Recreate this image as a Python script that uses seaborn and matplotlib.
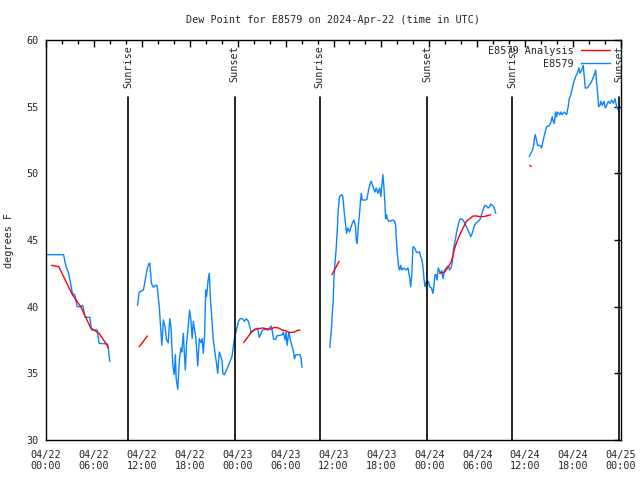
import pandas as pd
import numpy as np
import matplotlib
matplotlib.use("Agg")
import matplotlib.pyplot as plt
import matplotlib.dates as mdates
from matplotlib.lines import Line2D
import seaborn as sns

# Hours after 2024-04-22 00:00 UTC, dew point in degrees F
obs1_h = [0.1, 2.2, 2.5, 2.8, 3.0, 3.3, 3.6, 3.9, 4.3, 4.6, 4.9, 5.5, 5.7, 6.4, 6.65, 7.7, 7.8, 7.9, 8.0]
obs1_v = [43.9, 43.9, 43.0, 42.6, 42.0, 41.0, 40.9, 40.0, 40.0, 40.1, 39.2, 39.2, 38.25, 38.25, 37.25, 37.2, 36.9, 36.3, 35.9]

obs2_h = [11.46, 11.67, 12.2, 12.5, 12.7, 12.9, 13.0, 13.2, 13.45, 13.7, 13.9, 14.2, 14.3, 14.5, 14.7, 14.9,
          15.1, 15.3, 15.5, 15.65, 15.8, 15.9, 16.06, 16.2, 16.3, 16.5, 16.7, 16.9, 17.0, 17.2, 17.3, 17.45,
          17.6, 17.8, 17.98, 18.15, 18.3, 18.45, 18.6, 18.75, 18.9, 19.0, 19.2, 19.4, 19.55, 19.7, 19.85, 20.0,
          20.1, 20.3, 20.45, 20.6, 20.75, 20.95, 21.2, 21.35, 21.5, 21.7, 21.9, 22.05, 22.15, 22.3, 22.5, 22.96,
          23.3, 23.5, 23.7, 23.95, 24.1, 24.3, 24.6, 24.85, 25.06, 25.35, 25.55, 25.7, 26.1, 26.5, 26.7, 27.1,
          27.5, 27.8, 28.2, 28.3, 28.5, 28.75, 28.9, 29.6, 29.7, 29.95, 30.05, 30.2, 30.4, 30.6, 30.8, 31.0,
          31.1, 31.3, 31.8, 31.95, 32.0, 32.07]
obs2_v = [40.1, 41.1, 41.25, 42.25, 42.9, 43.25, 43.25, 41.75, 41.45, 41.6, 41.6, 39.9, 38.9, 37.1, 39.0, 38.5,
          37.5, 37.3, 39.1, 38.5, 36.5, 35.5, 34.9, 36.4, 34.6, 33.8, 36.0, 36.9, 36.6, 38.0, 36.75, 35.25,
          37.25, 38.4, 39.75, 39.0, 37.6, 38.9, 38.25, 37.75, 36.5, 35.55, 37.6, 37.3, 37.6, 36.5, 37.75, 41.25,
          40.75, 42.0, 42.5, 40.5, 39.25, 37.5, 36.4, 35.75, 35.0, 36.6, 36.25, 35.9, 35.0, 34.9, 35.1, 35.75,
          36.3, 37.25, 37.9, 38.5, 38.9, 39.1, 39.1, 38.9, 39.1, 38.9, 38.4, 38.05, 38.25, 38.4, 37.7, 38.25,
          38.3, 38.25, 38.55, 38.3, 37.55, 37.55, 37.8, 37.9, 38.1, 37.5, 38.1, 37.1, 38.1, 37.5, 37.05, 36.6,
          36.1, 36.4, 36.4, 36.1, 35.75, 35.45]

obs3_h = [35.54, 35.62, 35.75, 35.84, 35.96, 36.04, 36.21, 36.34, 36.47, 36.59, 36.75, 37.04, 37.17, 37.34,
          37.47, 37.63, 37.8, 38.0, 38.22, 38.35, 38.55, 38.76, 38.85, 38.97, 39.1, 39.26, 39.39, 39.48, 39.6,
          39.98, 40.18, 40.39, 40.6, 40.73, 40.93, 41.18, 41.36, 41.56, 41.77, 41.93, 42.06, 42.18, 42.31,
          42.44, 42.52, 42.65, 42.74, 42.94, 43.44, 43.65, 43.78, 43.87, 43.99, 44.15, 44.28, 44.41, 44.57,
          44.78, 45.12, 45.32, 45.53, 45.66, 45.79, 45.95, 46.16, 46.37, 46.57, 46.79, 46.91, 47.08, 47.2,
          47.33, 47.45, 47.63, 47.75, 47.88, 48.04, 48.26, 48.46, 48.58, 48.71, 48.83, 48.96, 49.13, 49.21,
          49.38, 49.55, 49.71, 49.92, 50.14, 50.34, 50.55, 50.77, 50.89, 51.05, 51.22, 51.39, 51.6, 51.81,
          52.02, 52.22, 52.43, 52.65, 52.94, 53.19, 53.4, 53.6, 53.81, 54.1, 54.32, 54.53, 54.73, 54.94,
          55.16, 55.36, 55.57, 55.7, 55.91, 56.07, 56.2, 56.32]
obs3_v = [36.95, 37.5, 38.4, 39.4, 40.4, 41.9, 43.5, 44.4, 45.75, 47.25, 48.25, 48.4, 48.25, 47.1,
          46.4, 45.5, 45.9, 45.6, 46.0, 46.25, 46.5, 46.0, 45.0, 44.75, 46.0, 47.0, 48.0, 48.5, 48.0,
          48.0, 48.05, 48.75, 49.25, 49.4, 49.0, 48.6, 48.9, 48.5, 48.9, 48.25, 49.1, 49.9, 49.0,
          47.75, 46.6, 46.9, 46.6, 46.4, 46.5, 46.4, 46.1, 45.0, 44.0, 43.0, 42.75, 43.1, 42.75,
          42.9, 42.75, 42.9, 42.2, 41.5, 42.25, 44.5, 44.4, 44.1, 44.05, 44.1, 43.75, 43.5, 43.0,
          42.1, 41.5, 41.9, 41.75, 41.9, 41.5, 41.4, 41.0, 41.6, 42.4, 42.4, 42.0, 42.9, 42.75,
          42.5, 42.7, 42.1, 42.75, 42.9, 43.05, 42.75, 43.0, 43.4, 44.4, 44.9, 45.5, 46.1, 46.55,
          46.6, 46.5, 46.25, 46.0, 45.6, 45.25, 45.55, 46.0, 46.25, 46.4, 46.5, 46.9, 47.25, 47.6,
          47.55, 47.4, 47.5, 47.7, 47.6, 47.5, 47.25, 47.0]

obs4_h = [60.5, 60.8, 61.0, 61.13, 61.25, 61.43, 61.55, 61.84, 62.05, 62.26, 62.47, 62.68, 62.97, 63.18,
          63.38, 63.51, 63.64, 63.81, 63.94, 64.06, 64.22, 64.35, 64.48, 64.64, 64.89, 65.19, 65.39, 65.52,
          65.73, 65.94, 66.11, 66.32, 66.52, 66.73, 66.86, 67.07, 67.27, 67.4, 67.52, 67.77, 68.02, 68.33,
          68.65, 68.83, 68.95, 69.08, 69.2, 69.37, 69.49, 69.66, 69.87, 70.03, 70.21, 70.41, 70.62, 70.83,
          71.04, 71.25, 71.46, 71.67, 71.8]
obs4_v = [51.25, 51.6, 51.9, 52.4, 52.9, 52.5, 52.1, 52.1, 51.9, 52.5, 53.0, 53.5, 53.55, 53.75,
          54.25, 53.9, 53.75, 54.6, 54.25, 54.6, 54.5, 54.4, 54.6, 54.4, 54.6, 54.4, 55.0, 55.6,
          55.9, 56.5, 56.9, 57.25, 57.5, 57.9, 57.5, 57.75, 58.1, 57.25, 56.4, 56.4, 56.6, 56.9,
          57.4, 57.75, 56.75, 56.0, 55.0, 55.1, 55.4, 55.1, 55.4, 54.9, 55.1, 55.4, 55.25, 55.5,
          55.25, 55.6, 55.0, 54.75, 54.6]

ana1_h = [0.67, 1.6, 1.8, 3.3, 4.35, 5.6, 6.65, 7.5, 7.8]
ana1_v = [43.1, 43.0, 42.75, 40.9, 40.0, 38.4, 38.0, 37.25, 36.9]
ana2_h = [11.67, 12.7]
ana2_v = [37.0, 37.8]
ana3_h = [24.75, 25.25, 25.7, 26.1, 27.1, 28.1, 28.6, 29.1, 29.6, 30.0, 30.5, 31.1, 31.4, 31.8]
ana3_v = [37.3, 37.7, 38.1, 38.3, 38.4, 38.3, 38.45, 38.4, 38.25, 38.2, 38.05, 38.1, 38.2, 38.25]
ana4_h = [35.8, 36.7]
ana4_v = [42.4, 43.4]
ana5_h = [49.3, 49.92, 50.34, 50.77, 50.97, 51.18, 51.47, 51.81, 52.22, 52.65, 53.06, 53.48, 53.9,
          54.32, 54.73, 55.16, 55.7]
ana5_v = [42.5, 42.6, 42.95, 43.4, 43.9, 44.4, 44.9, 45.4, 45.9, 46.4, 46.6, 46.8, 46.8,
          46.75, 46.75, 46.8, 46.9]
ana6_h = [60.6, 60.75]
ana6_v = [50.6, 50.5]

sun_labels = ["Sunrise", "Sunset", "Sunrise", "Sunset", "Sunrise", "Sunset"]
sun_hours = [10.32, 23.62, 34.28, 47.7, 58.37, 71.8]

start = pd.Timestamp("2024-04-22 00:00")

rows = []
obs = [(obs1_h, obs1_v), (obs2_h, obs2_v), (obs3_h, obs3_v), (obs4_h, obs4_v)]
ana = [(ana1_h, ana1_v), (ana2_h, ana2_v), (ana3_h, ana3_v), (ana4_h, ana4_v), (ana5_h, ana5_v), (ana6_h, ana6_v)]
for i, (h, v) in enumerate(obs):
    for hh, vv in zip(h, v):
        rows.append(("E8579", f"o{i}", hh, vv))
for i, (h, v) in enumerate(ana):
    for hh, vv in zip(h, v):
        rows.append(("E8579 Analysis", f"a{i}", hh, vv))
df = pd.DataFrame(rows, columns=["series", "segment", "hours", "dewpoint"])
df["time"] = start + pd.to_timedelta(df["hours"], unit="h")

sns.set_style("white")
plt.rcParams["font.family"] = ["DejaVu Sans Mono"]
fs = 7.3

blue = "#0a84ff"
red = "#ff0000"

fig = plt.figure(figsize=(6.4, 4.8), dpi=100)
ax = fig.add_axes([46 / 640, 40 / 480, 575 / 640, 400 / 480])

sns.lineplot(data=df[df["series"] == "E8579"], x="time", y="dewpoint", units="segment",
             estimator=None, color=blue, lw=1.0, ax=ax, legend=False)
sns.lineplot(data=df[df["series"] == "E8579 Analysis"], x="time", y="dewpoint", units="segment",
             estimator=None, color=red, lw=1.0, ax=ax, legend=False)

# sunrise / sunset markers
for lab, hh in zip(sun_labels, sun_hours):
    t = start + pd.Timedelta(hours=hh)
    ax.plot([t, t], [30, 55.7], color="black", lw=1.2)
    ax.text(t, 59.6, lab, rotation=90, ha="center", va="top", fontsize=fs)

ax.set_xlim(start, start + pd.Timedelta(hours=72))
ax.set_ylim(30, 60)
ax.set_yticks(range(30, 61, 5))
ax.xaxis.set_major_locator(mdates.HourLocator(byhour=[0, 6, 12, 18]))
ax.xaxis.set_minor_locator(mdates.HourLocator(interval=2))
ax.xaxis.set_major_formatter(mdates.DateFormatter("%m/%d\n%H:%M"))
ax.tick_params(which="both", direction="in", top=True, right=True, labelsize=fs, color="black")
ax.tick_params(which="major", length=5, width=1)
ax.tick_params(which="minor", length=3, width=1)
ax.tick_params(axis="x", which="major", pad=7)
ax.tick_params(axis="y", which="major", pad=5)
for s in ax.spines.values():
    s.set_color("black")
    s.set_linewidth(1)

ax.set_xlabel("")
ax.set_ylabel("degrees F", fontsize=fs)
ax.yaxis.set_label_coords(-0.055, 0.5)
ax.set_title("Dew Point for E8579 on 2024-Apr-22 (time in UTC)", fontsize=fs, pad=12)

handles = [Line2D([], [], color=red, lw=1), Line2D([], [], color=blue, lw=1)]
ax.legend(handles, ["E8579 Analysis", "E8579"], loc="upper right", frameon=False, markerfirst=False,
          fontsize=fs, handlelength=2.9, borderpad=0, borderaxespad=0, labelspacing=0.25,
          handletextpad=0.7, bbox_to_anchor=(0.981, 0.985))

fig.savefig("out.png", dpi=100)
